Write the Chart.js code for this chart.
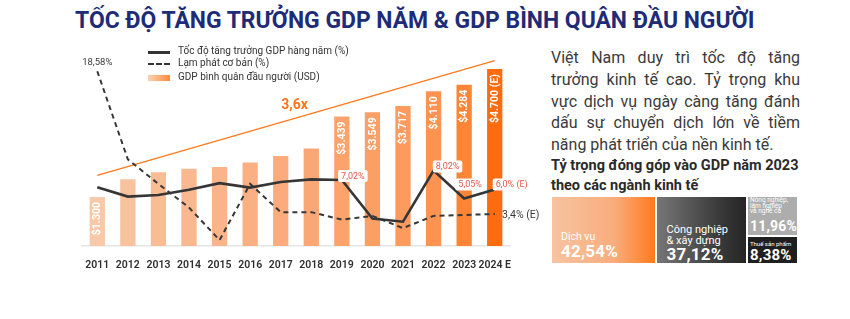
<!DOCTYPE html>
<html>
<head>
<meta charset="utf-8">
<script src="https://cdn.jsdelivr.net/npm/chart.js@4"></script>
<style>
  html, body { margin: 0; padding: 0; background: #fff; }
  body { width: 850px; height: 319px; position: relative; overflow: hidden; font-family: "Roboto", "Noto Sans", sans-serif; color: #333; }
  #title { position: absolute; left: 75px; top: 7px; font-family: "Roboto", sans-serif; font-weight: 700; font-size: 23px; color: #1e2c78; white-space: nowrap; transform-origin: left top; }
  #chartBox { position: absolute; left: 0; top: 0; width: 550px; height: 280px; }
  .legend { position: absolute; left: 148px; font-size: 10px; color: #333; white-space: nowrap; }
  .legend i { position: absolute; left: 0; width: 22px; }
  .legend span { position: absolute; left: 30px; top: -7px; }
  #para { position: absolute; left: 551px; top: 47px; width: 249px; font-size: 16px; line-height: 21.8px; color: #3a3a3a; }
  #para div { text-align: justify; text-align-last: justify; white-space: nowrap; }
  #para div.last { text-align-last: left; }
  #sub { position: absolute; left: 551px; top: 156px; font-size: 14.5px; line-height: 20px; font-weight: 700; color: #2a2a2a; white-space: nowrap; }
  #tree { position: absolute; left: 552px; top: 197px; width: 245px; height: 66px; }
  .cell { position: absolute; color: #fff; overflow: hidden; box-sizing: border-box; }
  .cell .n { position: absolute; white-space: nowrap; }
  .cell .v { position: absolute; font-weight: 700; white-space: nowrap; letter-spacing: 0.2px; }
</style>
</head>
<body>
<div id="title">TỐC ĐỘ TĂNG TRƯỞNG GDP NĂM &amp; GDP BÌNH QUÂN ĐẦU NGƯỜI</div>
<div id="chartBox"><canvas id="myChart" width="550" height="280"></canvas></div>

<div class="legend" style="top:52px"><i style="top:-1px;height:3px;background:#333"></i><span>Tốc độ tăng trưởng GDP hàng năm (%)</span></div>
<div class="legend" style="top:64px"><i style="top:-1px;height:0;border-top:2.5px dashed #333"></i><span>Lạm phát cơ bản (%)</span></div>
<div class="legend" style="top:78px"><i style="top:-3px;height:6px;background:linear-gradient(90deg,#fbd2b3,#ff8a3a)"></i><span>GDP bình quân đầu người (USD)</span></div>

<div id="para">
  <div>Việt Nam duy trì tốc độ tăng</div>
  <div>trưởng kinh tế cao. Tỷ trọng khu</div>
  <div>vực dịch vụ ngày càng tăng đánh</div>
  <div>dấu sự chuyển dịch lớn về tiềm</div>
  <div class="last">năng phát triển của nền kinh tế.</div>
</div>
<div id="sub">Tỷ trọng đóng góp vào GDP năm 2023<br>theo các ngành kinh tế</div>
<div id="tree"></div>

<script>
const years = ["2011", "2012", "2013", "2014", "2015", "2016", "2017", "2018", "2019", "2020", "2021", "2022", "2023", "2024 E"];
const gdpPerCapita = [1300, 1770, 1960, 2050, 2100, 2220, 2390, 2590, 3439, 3549, 3717, 4110, 4284, 4700];
const gdpGrowth = [6.24, 5.25, 5.42, 5.98, 6.68, 6.21, 6.81, 7.08, 7.02, 2.91, 2.58, 8.02, 5.05, 6.0];
const coreInflation = [18.58, 9.21, 6.6, 4.09, 0.63, 6.6, 3.6, 3.6, 2.8, 3.2, 1.9, 3.2, 3.3, 3.4];
const trendLine = [7.5, null, null, null, null, null, null, null, null, null, null, null, null, 19.7];
const barLabels = ["$1.300", "", "", "", "", "", "", "", "$3.439", "$3.549", "$3.717", "$4.110", "$4.284", "$4.700 (E)"];
const growthLabels = ["", "", "", "", "", "", "", "", "7,02%", "", "", "8,02%", "5,05%", "6,0% (E)"];
const inflationLabels = ["18,58%", "", "", "", "", "", "", "", "", "", "", "", "", "3,4% (E)"];
const trendText = "3,6x";

const sectors = ["Dịch vụ", "Công nghiệp & xây dựng", "Nông nghiệp, lâm nghiệp và nghề cá", "Thuế sản phẩm"];
const sectorShares = [42.54, 37.12, 11.96, 8.38];

// bar colours, light to deep orange
const barColors = ["#f8c9a9", "#f8c29e", "#f9bd96", "#f9b88f", "#f9b489", "#fab083", "#fbab7c", "#fba775",
  "#fca36c", "#fc9f65", "#fd9a5e", "#fd9350", "#fe8535", "#ff6c10"];

// label offsets from the point (px)
const growthOffsets = { 8: [11, -4], 11: [14, -4], 12: [6, -14], 13: [17, -5] };
const inflationOffsets = { 0: [0, -9], 13: [26, 1] };

const fmt = (n) => n.toFixed(2).replace(".", ",") + "%";

const labelPlugin = {
  id: "labels",
  afterDatasetsDraw(chart) {
    const ctx = chart.ctx;
    const bars = chart.getDatasetMeta(3).data;
    ctx.save();
    ctx.fillStyle = "#fff";
    ctx.font = "700 10.5px Roboto";
    ctx.textAlign = "right";
    ctx.textBaseline = "middle";
    bars.forEach((b, i) => {
      if (!barLabels[i]) return;
      ctx.save();
      ctx.translate(b.x, b.y + 5);
      ctx.rotate(-Math.PI / 2);
      ctx.fillText(barLabels[i], 0, 0.5);
      ctx.restore();
    });

    ctx.textAlign = "center";
    const g = chart.getDatasetMeta(0).data;
    ctx.font = "9px Roboto";
    growthLabels.forEach((t, i) => {
      if (!t) return;
      const o = growthOffsets[i] || [0, -10];
      const x = g[i].x + o[0], y = g[i].y + o[1];
      const w = ctx.measureText(t).width + 6;
      ctx.fillStyle = "#fff";
      ctx.beginPath();
      ctx.roundRect(x - w / 2, y - 6, w, 12, 2);
      ctx.fill();
      ctx.fillStyle = "#e4574c";
      ctx.fillText(t, x, y + 0.5);
    });

    const d = chart.getDatasetMeta(1).data;
    ctx.fillStyle = "#3a3a3a";
    inflationLabels.forEach((t, i) => {
      if (!t) return;
      const o = inflationOffsets[i] || [0, -10];
      ctx.font = i === 13 ? "10.5px Roboto" : "9.5px Roboto";
      ctx.fillText(t, d[i].x + o[0], d[i].y + o[1]);
    });

    // trend multiplier text, placed just above the trend line
    const pos = 6.45;
    const x = chart.scales.x.getPixelForValue(pos);
    const v = trendLine[0] + (trendLine[13] - trendLine[0]) * pos / 13;
    ctx.fillStyle = "#ff7417";
    ctx.font = "700 14px Roboto";
    ctx.fillText(trendText, x, chart.scales.y1.getPixelForValue(v) - 13);
    ctx.restore();
  }
};

const data = {
  labels: years,
  datasets: [
    {
      type: "line",
      label: "Tốc độ tăng trưởng GDP hàng năm (%)",
      data: gdpGrowth,
      yAxisID: "y1",
      borderColor: "#363636",
      borderWidth: 2.6,
      pointRadius: 0,
      tension: 0,
      order: 0,
      clip: false,
    },
    {
      type: "line",
      label: "Lạm phát cơ bản (%)",
      data: coreInflation,
      yAxisID: "y1",
      borderColor: "#363636",
      borderWidth: 2,
      borderDash: [5, 4],
      pointRadius: 0,
      tension: 0,
      order: 1,
      clip: false,
    },
    {
      type: "line",
      label: "trend",
      data: trendLine,
      yAxisID: "y1",
      borderColor: "#ff7a1f",
      borderWidth: 1.4,
      pointRadius: 0,
      spanGaps: true,
      order: 2,
      clip: false,
    },
    {
      type: "bar",
      label: "GDP bình quân đầu người (USD)",
      data: gdpPerCapita,
      yAxisID: "y",
      backgroundColor: barColors,
      barPercentage: 0.5,
      categoryPercentage: 1,
      order: 3,
    },
  ],
};

const config = {
  type: "bar",
  data: data,
  options: {
    responsive: false,
    animation: false,
    layout: {
      padding: { left: 82, right: 40, top: 40, bottom: 6 },
    },
    plugins: {
      legend: { display: false },
      tooltip: { enabled: false },
    },
    scales: {
      x: {
        offset: true,
        grid: { display: false },
        border: { color: "#e6e6e6", width: 1.5 },
        ticks: { color: "#2e2e2e", font: { family: "Roboto", size: 10.5, weight: "600" }, padding: 5, maxRotation: 0, autoSkip: false },
        afterFit(s) { s.height = 28; },
      },
      y: { display: false, min: 0, max: 5470 },
      y1: { display: false, min: 0, max: 21.9 },
    },
  },
  plugins: [labelPlugin],
};

const myChart = new Chart(document.getElementById("myChart"), config);

// treemap of sector shares
const tree = document.getElementById("tree");
const W = 245, H = 66, gap = 2;
const total = sectorShares.reduce((a, b) => a + b, 0);
const inner = W - 2 * gap;
const w0 = inner * sectorShares[0] / total;
const w1 = inner * sectorShares[1] / total;
const w2 = inner - w0 - w1;
const h2 = (H - gap) * sectorShares[2] / (sectorShares[2] + sectorShares[3]);
const cells = [
  { x: 0, y: 0, w: w0, h: H, bg: "linear-gradient(90deg,#f6c3a1,#f9ad7c 60%,#ff7a1e)",
    name: "Dịch vụ", nx: 9, ny: 34, ns: 10.5, vx: 9, vy: 46, vs: 17 },
  { x: w0 + gap, y: 0, w: w1, h: H, bg: "linear-gradient(90deg,#767676,#3a3a3a 70%,#252525)",
    name: "Công nghiệp<br>&amp; xây dựng", nx: 10, ny: 27, ns: 11, vx: 10, vy: 49, vs: 17, lh: 11 },
  { x: w0 + w1 + 2 * gap, y: 0, w: w2, h: h2, bg: "#adadad",
    name: "Nông nghiệp,<br>lâm nghiệp<br>và nghề cá", nx: 2, ny: 1, ns: 6.5, vx: 2, vy: 22, vs: 14, lh: 5.5 },
  { x: w0 + w1 + 2 * gap, y: h2 + gap, w: w2, h: H - h2 - gap, bg: "#1f1f1f",
    name: "Thuế sản phẩm", nx: 2, ny: 3, ns: 6, vx: 2, vy: 11, vs: 15 },
];
cells.forEach((c, i) => {
  const el = document.createElement("div");
  el.className = "cell";
  el.style.cssText = `left:${c.x}px;top:${c.y}px;width:${c.w}px;height:${c.h}px;background:${c.bg}`;
  el.innerHTML = `<div class="n" style="left:${c.nx}px;top:${c.ny}px;font-size:${c.ns}px;line-height:${c.lh || c.ns * 1.2}px">${c.name}</div>` +
    `<div class="v" style="left:${c.vx}px;top:${c.vy}px;font-size:${c.vs}px;line-height:${c.vs}px">${fmt(sectorShares[i])}</div>`;
  tree.appendChild(el);
});

// fit title to its width in the reference
const t = document.getElementById("title");
t.style.transform = `scaleX(${680 / t.offsetWidth})`;
</script>
</body>
</html>
